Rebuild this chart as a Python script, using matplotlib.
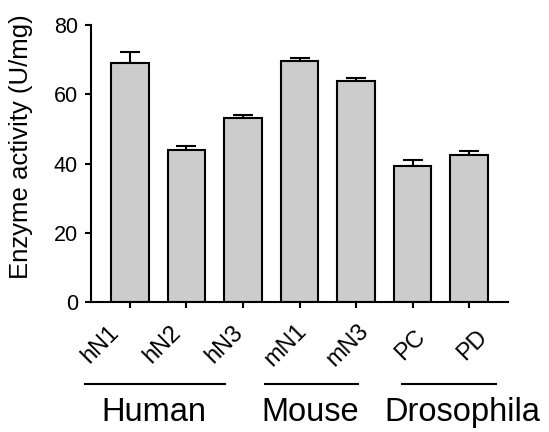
import matplotlib
matplotlib.use("Agg")
import matplotlib.pyplot as plt
import matplotlib.transforms as mtransforms

plt.rcParams['font.family'] = ['Liberation Sans', 'DejaVu Sans']

categories = ["hN1", "hN2", "hN3", "mN1", "mN3", "PC", "PD"]
values = [68.9, 43.9, 53.2, 69.6, 63.8, 39.2, 42.5]
errors = [3.4, 1.2, 0.7, 0.8, 1.0, 1.7, 1.1]
groups = ["Human", "Mouse", "Drosophila"]
group_line_spans = [(-0.80, 1.68), (2.39, 4.04), (4.81, 6.48)]
group_label_x = [0.42, 3.19, 5.89]

# layout of the rotated category labels (they drift slightly vs. ticks in the original)
label_stretch = 1.097
label_shift = -0.53

fig = plt.figure(figsize=(5.49, 4.32), dpi=100)
ax = fig.add_axes([91/549, 1-302/432, (508-91)/549, (302-25)/432])

x = list(range(len(categories)))
ax.bar(x, values, width=0.67, color="#cccccc", edgecolor="black", linewidth=1.5, zorder=2)
ax.errorbar(x, values, yerr=[[0]*len(errors), errors], fmt="none", ecolor="black",
            elinewidth=1.5, capsize=7, capthick=1.5, zorder=1)

ax.set_xlim(-0.69, 6.69)
ax.set_ylim(0, 80)
ax.set_yticks([0, 20, 40, 60, 80])
ax.set_xticks(x)
ax.set_xticklabels([])
ax.tick_params(axis="y", labelsize=15.5, width=1.5, length=4.3, direction="out", pad=5)
ax.tick_params(axis="x", width=1.5, length=4.3, direction="out")
for s in ["top", "right"]:
    ax.spines[s].set_visible(False)
for s in ["left", "bottom"]:
    ax.spines[s].set_linewidth(1.5)

fig.text(21.5/549, 1-147/432, "Enzyme activity (U/mg)", rotation=90,
         ha="center", va="center", fontsize=18.5)

trans = mtransforms.blended_transform_factory(ax.transData, fig.transFigure)
tick_label_y = 1 - 345/432
for i, c in enumerate(categories):
    ax.text(i*label_stretch + label_shift, tick_label_y, c, transform=trans,
            rotation=45, ha="center", va="center", rotation_mode="anchor",
            fontsize=17, clip_on=False)

line_y = 1 - 384/432
label_y = 1 - 421/432
for g, (a, b), lx in zip(groups, group_line_spans, group_label_x):
    ax.plot([a, b], [line_y, line_y], transform=trans, color="black", lw=1.5, clip_on=False)
    ax.text(lx, label_y, g, transform=trans, ha="center", va="baseline", fontsize=23.5)

fig.savefig("out.png", dpi=100)
